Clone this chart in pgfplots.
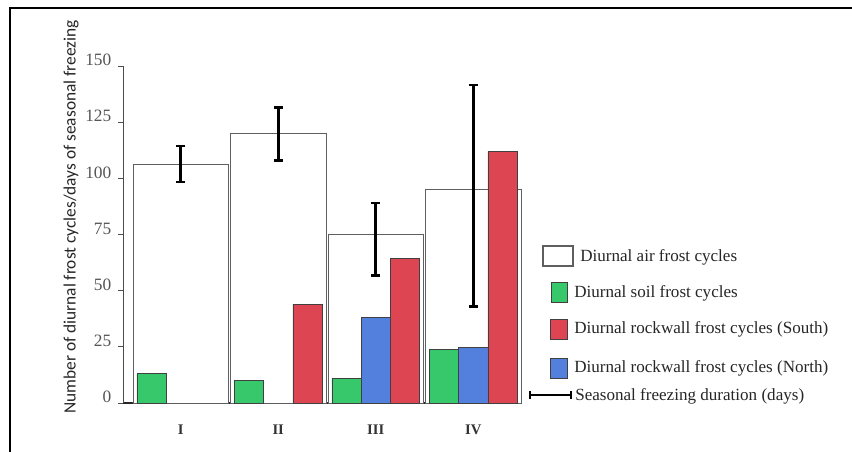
\documentclass[border=0pt]{standalone}
\usepackage{pgfplots}
\pgfplotsset{compat=1.18}
\usepackage{fontspec}
\setmainfont{Liberation Serif}
\newfontfamily\labelfont{Carlito}
\definecolor{cgreen}{RGB}{55,200,108}
\definecolor{cred}{RGB}{222,69,82}
\definecolor{cblue}{RGB}{82,128,220}
\definecolor{bargray}{RGB}{95,95,95}
\definecolor{tickgray}{RGB}{85,85,85}

\begin{document}
\begin{tikzpicture}[x=0.75pt,y=0.75pt]
\path[use as bounding box] (0,0) rectangle (852,452);
\draw[line width=1.5pt] (10,0) -- (10,444) -- (852,444);
\begin{axis}[
  at={(92.25pt,36.75pt)}, anchor=south west,
  scale only axis, width=299.25pt, height=252.75pt,
  xmin=-0.592, xmax=3.5, ymin=0, ymax=150,
  axis x line*=bottom, axis y line*=left,
  x axis line style={line width=1.1pt, black!85},
  y axis line style={line width=0.6pt, black!70},
  ytick={0,25,...,150},
  tick align=outside, major tick length=3.75pt,
  y tick style={line width=0.6pt, black!70},
  xtick={0,1,2,3}, xticklabels={I,II,III,IV},
  x tick style={draw=none},
  /pgf/number format/assume math mode=true,
  yticklabel style={font=\fontsize{13}{15}\selectfont, text=tickgray, yshift=4.5pt, xshift=-1.5pt},
  xticklabel style={font=\fontsize{11}{13}\selectfont\bfseries, text=black!80, yshift=-9pt},
  ylabel={Number of diurnal frost cycles/days of seasonal freezing},
  every axis y label/.style={at={(axis description cs:-0.130,0.552)}, rotate=90, anchor=center, font=\labelfont\fontsize{13}{15}\selectfont, text=black!85},
  clip=false,
]
% Diurnal air frost cycles
\addplot[ybar, bar width=0.98, draw=bargray, fill=white, line width=0.6pt]
  coordinates {(0,106) (1,120) (2,75) (3,95)};
% Diurnal soil frost cycles
\addplot[ybar, bar width=0.30, bar shift=-0.30, draw=black!75, fill=cgreen, line width=0.5pt]
  coordinates {(0,13) (1,10) (2,11) (3,24)};
% Diurnal rockwall frost cycles (North)
\addplot[ybar, bar width=0.30, bar shift=0, draw=black!75, fill=cblue, line width=0.5pt]
  coordinates {(2,38) (3,24.6)};
% Diurnal rockwall frost cycles (South)
\addplot[ybar, bar width=0.30, bar shift=0.30, draw=black!75, fill=cred, line width=0.5pt]
  coordinates {(1,44) (2,64.4) (3,112)};
% Seasonal freezing duration (days)
\addplot[draw=none, mark=none,
  error bars/.cd, y dir=both, y explicit,
  error bar style={line width=2.1pt, draw=black},
  error mark options={rotate=90, mark size=3.3pt, line width=2.1pt, draw=black}]
  coordinates {(0,106.4) +- (0,8.0) (1,119.7) +- (0,11.9) (2,72.9) +- (0,16.1) (3,92.2) +- (0,49.3)};
\end{axis}
% legend
\begin{scope}[every node/.style={anchor=west, inner sep=0pt, font=\fontsize{12.8}{14}\selectfont, text=black!85}]
\draw[bargray, line width=0.8pt, fill=white] (543,186) rectangle (573,206);
\node at (580,195) {Diurnal air frost cycles};
\draw[black!75, line width=0.5pt, fill=cgreen] (551,150) rectangle (567,170);
\node at (574,159) {Diurnal soil frost cycles};
\draw[black!75, line width=0.5pt, fill=cred] (550,113) rectangle (567,133);
\node at (574,123) {Diurnal rockwall frost cycles (South)};
\draw[black!75, line width=0.5pt, fill=cblue] (550,74) rectangle (567,94);
\node at (574,84) {Diurnal rockwall frost cycles (North)};
\draw[black, line width=1.6pt] (530,57) -- (571,57);
\draw[black, line width=1.6pt] (530,53) -- (530,61);
\draw[black, line width=1.6pt] (571,53) -- (571,61);
\node at (575,56) {Seasonal freezing duration (days)};
\end{scope}
\end{tikzpicture}
\end{document}
